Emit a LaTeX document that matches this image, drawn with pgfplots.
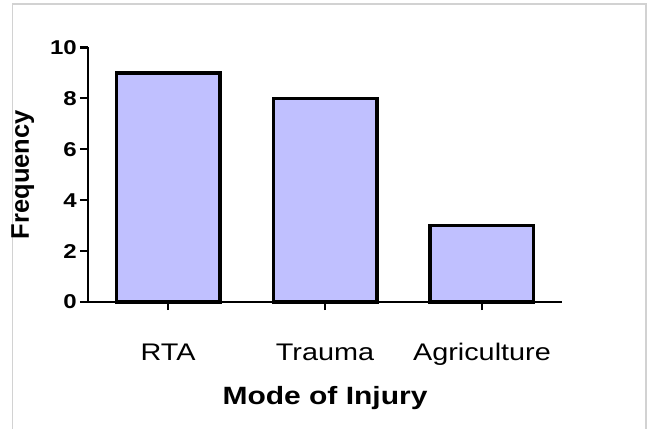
\documentclass[border=0pt]{standalone}
\usepackage{fontspec}
\setmainfont{Liberation Sans}[FakeStretch=1.2]
\newfontfamily\plainsans{Liberation Sans}
\usepackage{pgfplots}
\pgfplotsset{compat=1.18}
\definecolor{barfill}{RGB}{192,192,255}
\definecolor{framegray}{RGB}{210,210,210}
\begin{document}
\begin{tikzpicture}[x=1bp,y=1bp]
\path[use as bounding box] (0,0) rectangle (652,428);
\draw[framegray, line width=1.2bp] (12.5,-10) -- (12.5,424) -- (646,424) -- (646,-10);
\begin{axis}[
  at={(88bp,126bp)}, anchor=south west,
  scale only axis, width=474bp, height=254.5bp,
  xmin=-0.51, xmax=2.51, ymin=0, ymax=10,
  axis lines*=left,
  axis line style={line width=2.6bp, black},
  tick align=outside,
  major tick length=8bp,
  tick style={line width=2.2bp, black},
  xtick={0,1,2},
  xticklabels={RTA,Trauma,Agriculture},
  ytick={0,2,4,6,8,10},
  minor tick num=0,
  /pgf/number format/assume math mode=true,
  xticklabel style={font=\fontsize{24bp}{24bp}\selectfont, anchor=base, yshift=-50bp},
  yticklabel style={font=\fontsize{20bp}{20bp}\selectfont\bfseries, anchor=east, inner sep=0pt, xshift=-3bp},
  xlabel={Mode of Injury},
  ylabel={Frequency},
  xlabel style={font=\fontsize{25bp}{25bp}\selectfont\bfseries, at={(axis description cs:0.5,0)}, anchor=base, yshift=-102bp},
  ylabel style={font=\plainsans\fontsize{25.5bp}{25.5bp}\selectfont\bfseries, at={(axis description cs:-0.1245,0.5)}, anchor=base},
  clip=false,
]
\addplot[ybar, bar width=0.66, fill=barfill, draw=black, line width=3.4bp] coordinates {(0,9) (1,8) (2,3)};
\end{axis}
\end{tikzpicture}
\end{document}
